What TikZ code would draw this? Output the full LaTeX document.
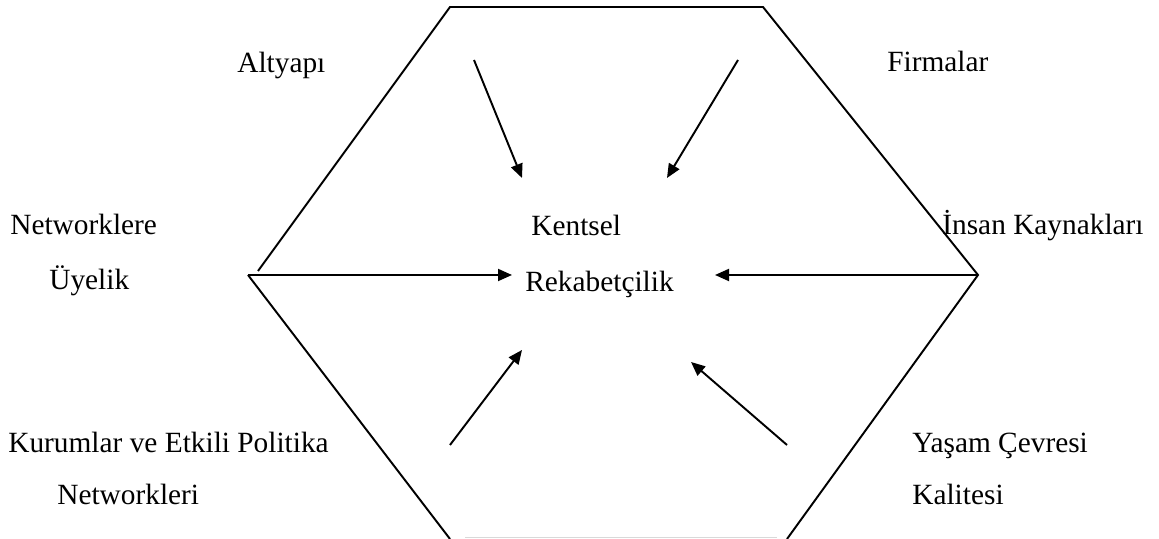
\documentclass[tikz,border=0pt]{standalone}
\usepackage{fontspec}
\setmainfont{Liberation Serif}
\usetikzlibrary{arrows.meta}

\tikzset{
  edge/.style={line width=1.1pt},
  push/.style={line width=1.1pt, -{Triangle[length=0.28cm,width=0.24cm]}},
  lbl/.style={anchor=base west, inner sep=0pt, font=\fontsize{16.7}{20}\selectfont},
}

\begin{document}
\begin{tikzpicture}
  \useasboundingbox (0,0) rectangle (23.18,10.78);

  % Hexagon corners
  \coordinate (tl) at (9.00, 10.64);
  \coordinate (tr) at (15.26, 10.64);
  \coordinate (r) at (19.56, 5.28);
  \coordinate (br) at (15.74, 0);
  \coordinate (bl) at (9.00, 0);
  \coordinate (l) at (4.96, 5.28);
  \coordinate (lu) at (5.16, 5.36);

  \draw[edge] (lu) -- (tl) -- (tr) -- (r) -- (br);
  \draw[edge] (l) -- (bl);
  \draw[gray!30, line width=0.5pt] (9.30, 0.03) -- (15.54, 0.03);

  % Labels
  \node[lbl] (altyapi) at (4.74, 9.32) {Altyapı};
  \node[lbl] (firmalar) at (17.74, 9.34) {Firmalar};
  \node[lbl] (net1) at (0.20, 6.08) {Networklere};
  \node[lbl] (net2) at (0.98, 4.98) {Üyelik};
  \node[lbl] (kent1) at (10.62, 6.06) {Kentsel};
  \node[lbl] (kent2) at (10.50, 4.94) {Rekabetçilik};
  \node[lbl] (insan) at (18.84, 6.08) {İnsan Kaynakları};
  \node[lbl] (kurum1) at (0.16, 1.72) {Kurumlar ve Etkili Politika};
  \node[lbl] (kurum2) at (1.14, 0.68) {Networkleri};
  \node[lbl] (yasam1) at (18.24, 1.72) {Yaşam Çevresi};
  \node[lbl] (yasam2) at (18.24, 0.68) {Kalitesi};

  % Arrow ends
  \coordinate (a1s) at (9.48, 9.58);
  \coordinate (a1e) at (10.44, 7.22);
  \coordinate (a2s) at (14.76, 9.58);
  \coordinate (a2e) at (13.34, 7.22);
  \coordinate (a3e) at (10.24, 5.28);
  \coordinate (a4e) at (14.30, 5.28);
  \coordinate (a5s) at (9.00, 1.88);
  \coordinate (a5e) at (10.44, 3.78);
  \coordinate (a6s) at (15.74, 1.88);
  \coordinate (a6e) at (13.82, 3.54);

  \draw[push] (a1s) -- (a1e);
  \draw[push] (a2s) -- (a2e);
  \draw[push] (l) -- (a3e);
  \draw[push] (r) -- (a4e);
  \draw[push] (a5s) -- (a5e);
  \draw[push] (a6s) -- (a6e);
\end{tikzpicture}
\end{document}
